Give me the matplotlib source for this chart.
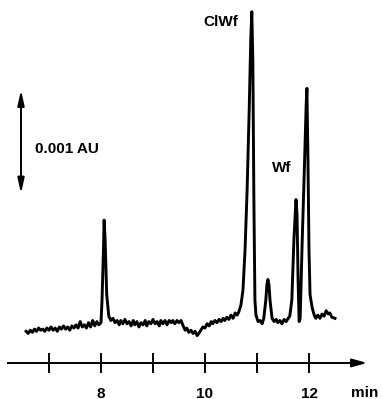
import matplotlib
matplotlib.use("Agg")
import matplotlib.pyplot as plt

# retention time (min) and absorbance (units of 0.001 AU)
TIME = [6.56, 6.60, 6.64, 6.68, 6.72, 6.76, 6.80, 6.84, 6.88, 6.92, 6.96, 7.00,
        7.04, 7.08, 7.12, 7.16, 7.20, 7.24, 7.28, 7.32, 7.36, 7.40, 7.44, 7.48,
        7.52, 7.56, 7.60, 7.64, 7.68, 7.72, 7.76, 7.80, 7.84, 7.88, 7.92, 7.96,
        8.00, 8.02, 8.05, 8.06, 8.08, 8.11, 8.15, 8.19,
        8.23, 8.27, 8.31, 8.35, 8.38, 8.42, 8.46, 8.50, 8.54, 8.58, 8.62, 8.65,
        8.69, 8.73, 8.77, 8.81, 8.85, 8.88, 8.92, 8.96, 9.00, 9.04, 9.08, 9.12,
        9.15, 9.19, 9.23, 9.27, 9.31, 9.35, 9.38, 9.42, 9.46, 9.50, 9.54, 9.58,
        9.62, 9.65, 9.69, 9.73, 9.77, 9.81, 9.85, 9.88, 9.92, 9.96, 10.00, 10.04,
        10.08, 10.12, 10.15, 10.19, 10.23, 10.27, 10.31, 10.35, 10.38, 10.42,
        10.46, 10.50, 10.54, 10.58, 10.62, 10.65, 10.69, 10.73, 10.77, 10.81,
        10.85, 10.88, 10.90, 10.92, 10.94, 10.96, 10.98, 11.02, 11.06, 11.10,
        11.13, 11.17, 11.19, 11.21, 11.23, 11.25, 11.29, 11.33, 11.37, 11.40,
        11.44, 11.48, 11.52, 11.56, 11.60, 11.63, 11.67, 11.71, 11.75, 11.77,
        11.79, 11.81, 11.83, 11.87, 11.91, 11.945, 11.96, 11.98, 12.00, 12.02,
        12.06, 12.10, 12.13, 12.17, 12.21, 12.25, 12.29, 12.33, 12.37, 12.40,
        12.44, 12.50]
ABS = [-0.04, -0.06, -0.03, -0.05, -0.02, -0.04, -0.01, -0.03, -0.02, -0.04, -0.01, -0.03,
       0.00, -0.03, -0.01, -0.04, 0.00, -0.02, 0.01, -0.02, 0.00, -0.03, 0.01, -0.01,
       0.02, -0.01, 0.05, 0.00, 0.02, -0.01, 0.04, 0.00, 0.06, 0.01, 0.05, 0.02,
       0.04, 0.25, 0.76, 0.99, 0.80, 0.30, 0.10, 0.06,
       0.08, 0.04, 0.06, 0.02, 0.06, 0.03, 0.07, 0.03, 0.05, 0.01, 0.06, 0.02,
       0.05, 0.00, 0.04, 0.02, 0.06, 0.01, 0.05, 0.03, 0.07, 0.03, 0.05, 0.01,
       0.06, 0.03, 0.06, 0.02, 0.06, 0.04, 0.06, 0.03, 0.06, 0.04, 0.06, 0.01,
       -0.03, -0.01, -0.05, -0.03, -0.06, -0.04, -0.08, -0.06, -0.03, 0.00, -0.01, 0.03,
       0.01, 0.05, 0.03, 0.06, 0.04, 0.07, 0.05, 0.08, 0.06, 0.09,
       0.07, 0.11, 0.08, 0.13, 0.11, 0.14, 0.20, 0.34, 0.71, 1.27,
       2.01, 2.66, 2.92, 2.47, 1.18, 0.25, 0.11, 0.05, 0.06, 0.03,
       0.08, 0.25, 0.39, 0.44, 0.39, 0.25, 0.08, 0.05, 0.07, 0.04,
       0.06, 0.03, 0.07, 0.05, 0.08, 0.10, 0.25, 0.81, 1.18, 1.04,
       0.44, 0.05, 0.08, 0.81, 1.45, 2.05, 2.21, 1.55, 0.71, 0.30,
       0.18, 0.11, 0.08, 0.11, 0.08, 0.12, 0.10, 0.15, 0.12, 0.13,
       0.09, 0.08]

TICKS = [7, 8, 9, 10, 11, 12]
TICK_LABELS = ["", "8", "", "10", "", "12"]

BOLD = dict(family="Liberation Sans", fontweight="bold")

fig = plt.figure(figsize=(3.83, 3.99), dpi=100)
ax = fig.add_axes([0, 0, 1, 1])
ax.set_xlim(6.058, 13.423)
ax.set_ylim(-0.667, 3.028)

ax.plot(TIME, ABS, color="black", lw=2.1, solid_joinstyle="round")

# time axis drawn as a floating spine with an arrow head
axis_y = -0.333
for s in ["top", "right", "left"]:
    ax.spines[s].set_visible(False)
ax.spines["bottom"].set_position(("data", axis_y))
ax.spines["bottom"].set_bounds(6.21, 13.0)
ax.spines["bottom"].set_linewidth(1.4)
ax.annotate("", xy=(13.17, axis_y), xytext=(12.9, axis_y),
            arrowprops=dict(arrowstyle="-|>,head_length=0.9,head_width=0.25",
                            color="black", lw=1.4))
ax.set_xticks(TICKS)
ax.set_xticklabels(TICK_LABELS, fontsize=11, **BOLD)
ax.tick_params(axis="x", direction="inout", length=14, width=1.4, pad=10)
ax.set_yticks([])
ax.text(13.07, axis_y - 0.28, "min", fontsize=11, ha="center", va="center", **BOLD)

# 0.001 AU scale bar
ax.annotate("", xy=(6.462, 2.22), xytext=(6.462, 1.21),
            arrowprops=dict(arrowstyle="<|-|>,head_length=0.9,head_width=0.2",
                            color="black", lw=1.4))
ax.text(6.73, 1.65, "0.001 AU", fontsize=11, ha="left", va="center", **BOLD)

ax.text(10.635, 2.82, "ClWf", fontsize=11, ha="right", va="center", **BOLD)
ax.text(11.29, 1.47, "Wf", fontsize=11, ha="left", va="center", **BOLD)

fig.savefig("out.png", dpi=100)
